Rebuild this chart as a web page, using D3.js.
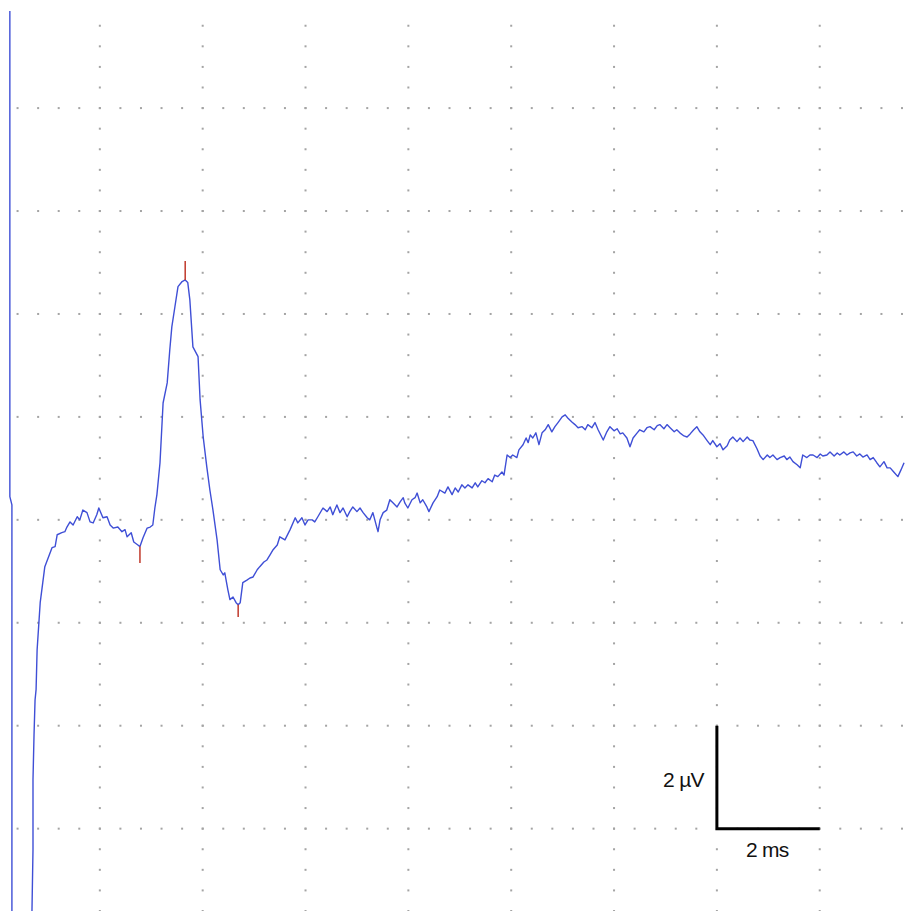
<!DOCTYPE html>
<html>
<head>
<meta charset="utf-8">
<script src="https://cdn.jsdelivr.net/npm/d3@7"></script>
<style>
  html, body { margin: 0; padding: 0; background: #fff; }
  svg { display: block; }
</style>
</head>
<body>
<svg id="chart" width="905" height="911"></svg>
<script>
// ---- Data: [time (ms), amplitude (µV)] ----
const artifact = [
  [0.25, 10.5], [0.25, 0.45], [0.29, 0.29], [0.29, -8.36], [0.68, -8.36], [0.68, -7.6], [0.70, -6.41],
  [0.70, -5.05], [0.72, -4.18], [0.74, -3.50], [0.76, -3.30], [0.78, -2.53], [0.84, -1.61], [0.89, -1.22]
];
const preResponse = [
  [0.93, -0.91], [1.07, -0.54], [1.13, -0.52], [1.17, -0.29], [1.26, -0.25], [1.32, -0.23], [1.36, -0.14],
  [1.42, -0.04], [1.48, -0.10], [1.56, 0.06], [1.61, 0.00], [1.67, 0.19], [1.75, 0.14], [1.81, -0.04],
  [1.87, -0.06], [1.94, 0.10], [1.98, 0.23], [2.06, 0.04], [2.14, 0.06], [2.20, -0.10], [2.26, -0.16],
  [2.35, -0.14], [2.43, -0.23], [2.49, -0.19], [2.53, -0.33], [2.61, -0.25], [2.66, -0.43], [2.74, -0.49],
  [2.78, -0.52], [2.84, -0.35], [2.92, -0.16], [2.98, -0.14], [3.03, -0.10], [3.07, 0.23], [3.11, 0.49]
];
const mainWave = [
  [3.17, 1.11], [3.23, 2.27], [3.31, 2.66], [3.36, 3.30], [3.40, 3.75], [3.46, 4.14], [3.52, 4.53],
  [3.60, 4.63], [3.66, 4.66], [3.71, 4.61], [3.75, 4.28], [3.81, 3.36], [3.91, 3.17], [3.95, 2.33],
  [4.01, 1.61], [4.08, 1.03], [4.14, 0.58], [4.20, 0.19], [4.28, -0.39], [4.34, -0.97], [4.40, -1.07],
  [4.43, -1.03], [4.49, -1.36], [4.53, -1.55], [4.59, -1.50], [4.65, -1.61], [4.69, -1.65], [4.73, -1.61],
  [4.78, -1.22], [4.86, -1.17], [4.92, -1.13], [4.98, -1.11], [5.06, -0.97], [5.11, -0.91], [5.19, -0.82],
  [5.25, -0.78], [5.31, -0.68], [5.37, -0.58], [5.45, -0.49]
];
const recovery = [
  [5.50, -0.33], [5.60, -0.39], [5.70, -0.19], [5.80, 0.04], [5.85, -0.06], [5.93, 0.04], [5.99, -0.10],
  [6.05, 0.00], [6.13, 0.00], [6.18, -0.04], [6.24, 0.06], [6.34, 0.23], [6.42, 0.16], [6.48, 0.25],
  [6.53, 0.10], [6.61, 0.29], [6.67, 0.14], [6.73, 0.23], [6.81, 0.06], [6.86, 0.16], [6.92, 0.25],
  [7.00, 0.16], [7.06, 0.23], [7.12, 0.14], [7.20, 0.04], [7.25, 0.00], [7.31, 0.14], [7.39, -0.16],
  [7.41, -0.23], [7.45, 0.00], [7.51, 0.14], [7.58, 0.19], [7.64, 0.39], [7.70, 0.33], [7.78, 0.25],
  [7.84, 0.35], [7.90, 0.43], [7.93, 0.33], [7.99, 0.23], [8.07, 0.39], [8.13, 0.43], [8.17, 0.52],
  [8.23, 0.33], [8.28, 0.39], [8.36, 0.25], [8.40, 0.16], [8.48, 0.33], [8.56, 0.45], [8.61, 0.58]
];
const slowRise = [
  [8.71, 0.52], [8.77, 0.64], [8.85, 0.49], [8.91, 0.62], [8.97, 0.54], [9.04, 0.68], [9.10, 0.62],
  [9.16, 0.68], [9.24, 0.62], [9.30, 0.72], [9.35, 0.64], [9.43, 0.76], [9.49, 0.72], [9.55, 0.80],
  [9.63, 0.74], [9.68, 0.87], [9.74, 0.84], [9.82, 0.93], [9.86, 0.87], [9.92, 1.26], [9.98, 1.21],
  [10.03, 1.26], [10.11, 1.21], [10.15, 1.36], [10.23, 1.46], [10.29, 1.59], [10.33, 1.50], [10.37, 1.65],
  [10.42, 1.59], [10.48, 1.69], [10.54, 1.46], [10.60, 1.69], [10.66, 1.75], [10.72, 1.85], [10.79, 1.71],
  [10.85, 1.81], [10.91, 1.89], [10.99, 2.00], [11.05, 2.04], [11.10, 1.98], [11.18, 1.90], [11.24, 1.85],
  [11.30, 1.79], [11.38, 1.81], [11.44, 1.75], [11.49, 1.85], [11.57, 1.79], [11.63, 1.89], [11.69, 1.75]
];
const lateTail = [
  [11.79, 1.55], [11.86, 1.71], [11.92, 1.81], [12.00, 1.73], [12.06, 1.77], [12.12, 1.67], [12.17, 1.69],
  [12.25, 1.59], [12.31, 1.42], [12.37, 1.59], [12.45, 1.69], [12.50, 1.75], [12.58, 1.71], [12.64, 1.79],
  [12.70, 1.81], [12.78, 1.75], [12.84, 1.83], [12.89, 1.85], [12.97, 1.77], [13.03, 1.85], [13.09, 1.79],
  [13.17, 1.71], [13.22, 1.75], [13.28, 1.69], [13.36, 1.63], [13.42, 1.61], [13.48, 1.67], [13.55, 1.75],
  [13.61, 1.81], [13.67, 1.71], [13.73, 1.65], [13.81, 1.54], [13.87, 1.46], [13.92, 1.54], [14.00, 1.42],
  [14.06, 1.48], [14.12, 1.36], [14.20, 1.44], [14.25, 1.55], [14.31, 1.61], [14.39, 1.52], [14.45, 1.59],
  [14.51, 1.52], [14.59, 1.61], [14.64, 1.55], [14.70, 1.54], [14.78, 1.38], [14.84, 1.24], [14.90, 1.17],
  [14.98, 1.26], [15.03, 1.21], [15.09, 1.26], [15.17, 1.17], [15.23, 1.21], [15.31, 1.24], [15.36, 1.17],
  [15.42, 1.22], [15.48, 1.13], [15.56, 1.07], [15.62, 1.01], [15.67, 1.26], [15.75, 1.21], [15.81, 1.26],
  [15.87, 1.26], [15.95, 1.21], [16.01, 1.28], [16.06, 1.24], [16.14, 1.26], [16.20, 1.32], [16.28, 1.24],
  [16.34, 1.30], [16.39, 1.26], [16.47, 1.32], [16.53, 1.26], [16.59, 1.30], [16.65, 1.32], [16.72, 1.24],
  [16.78, 1.28], [16.84, 1.22], [16.92, 1.26], [16.98, 1.17], [17.04, 1.21], [17.11, 1.11], [17.17, 1.03],
  [17.25, 1.13], [17.31, 1.01], [17.37, 1.01], [17.44, 0.93], [17.52, 0.84], [17.58, 0.97], [17.64, 1.11]
];

// Peak/trough markers: time, amplitude, marker extent (µV, + up / - down)
const markerTimes = [2.78, 3.66, 4.69];
const markerAmps  = [-0.52, 4.66, -1.65];
const markerExtent = [-0.32, 0.37, -0.24];

// Grid (major divisions every 2 ms and 2 µV, dots every 0.4)
const gridTimes = [2, 4, 6, 8, 10, 12, 14, 16];
const gridAmps  = [8, 6, 4, 2, 0, -2, -4, -6];
const dotStep = 0.4;

// Calibration bar
const calOrigin = { t: 14, v: -6 };
const calLength = { t: 2, v: 2 };
const calLabelV = "2 µV";
const calLabelT = "2 ms";

// ---- Layout ----
const W = 905, H = 911;
const x = d3.scaleLinear().domain([0, 17.6]).range([-3, 902]);
const y = d3.scaleLinear().domain([-7.6, 10.1]).range([H, 0]);

const svg = d3.select("#chart");
svg.append("rect").attr("width", W).attr("height", H).attr("fill", "#fff");

svg.append("defs").append("clipPath").attr("id", "plotClip")
  .append("rect").attr("x", 0).attr("y", 11).attr("width", W).attr("height", H - 11);

const plot = svg.append("g").attr("clip-path", "url(#plotClip)");

// grid dots
const dots = [];
const tMax = x.domain()[1], vMin = y.domain()[0], vMax = y.domain()[1];
gridAmps.forEach(v => {
  for (let t = dotStep; t <= tMax + 1e-6; t += dotStep) dots.push([t, v]);
});
gridTimes.forEach(t => {
  for (let v = vMin; v <= vMax + 1e-6; v += dotStep) {
    if (y(v) >= 20) dots.push([t, v]);
  }
});
plot.append("g").selectAll("rect").data(dots).join("rect")
  .attr("x", d => x(d[0]) - 1)
  .attr("y", d => y(d[1]) - 1)
  .attr("width", 2).attr("height", 2)
  .attr("fill", "#a4a4a4");

// trace
const pts = [].concat(artifact, preResponse, mainWave, recovery, slowRise, lateTail);
const line = d3.line().x(d => x(d[0])).y(d => y(d[1]));
plot.append("path").datum(pts)
  .attr("d", line)
  .attr("fill", "none")
  .attr("stroke", "#3f4fd6")
  .attr("stroke-width", 1.4)
  .attr("stroke-linejoin", "round");

// markers
plot.append("g").selectAll("line").data(markerTimes).join("line")
  .attr("x1", d => x(d)).attr("x2", d => x(d))
  .attr("y1", (d, i) => y(markerAmps[i]))
  .attr("y2", (d, i) => y(markerAmps[i] + markerExtent[i]))
  .attr("stroke", "#c0392b").attr("stroke-width", 1.5);

// calibration bar
const cal = svg.append("g");
cal.append("path")
  .attr("d", `M${x(calOrigin.t)},${y(calOrigin.v + calLength.v)} L${x(calOrigin.t)},${y(calOrigin.v)} L${x(calOrigin.t + calLength.t)},${y(calOrigin.v)}`)
  .attr("fill", "none").attr("stroke", "#000").attr("stroke-width", 3)
  .attr("stroke-linecap", "butt").attr("stroke-linejoin", "miter");
cal.append("text")
  .attr("x", x(calOrigin.t) - 13)
  .attr("y", y(calOrigin.v + calLength.v / 2) + 10)
  .attr("text-anchor", "end")
  .attr("font-family", "Liberation Sans, Arial, sans-serif")
  .attr("font-size", 21).attr("letter-spacing", -0.7).attr("fill", "#111")
  .text(calLabelV);
cal.append("text")
  .attr("x", x(calOrigin.t + calLength.t / 2) - 1)
  .attr("y", y(calOrigin.v) + 28)
  .attr("text-anchor", "middle")
  .attr("font-family", "Liberation Sans, Arial, sans-serif")
  .attr("font-size", 21).attr("letter-spacing", -0.7).attr("fill", "#111")
  .text(calLabelT);
</script>
</body>
</html>
